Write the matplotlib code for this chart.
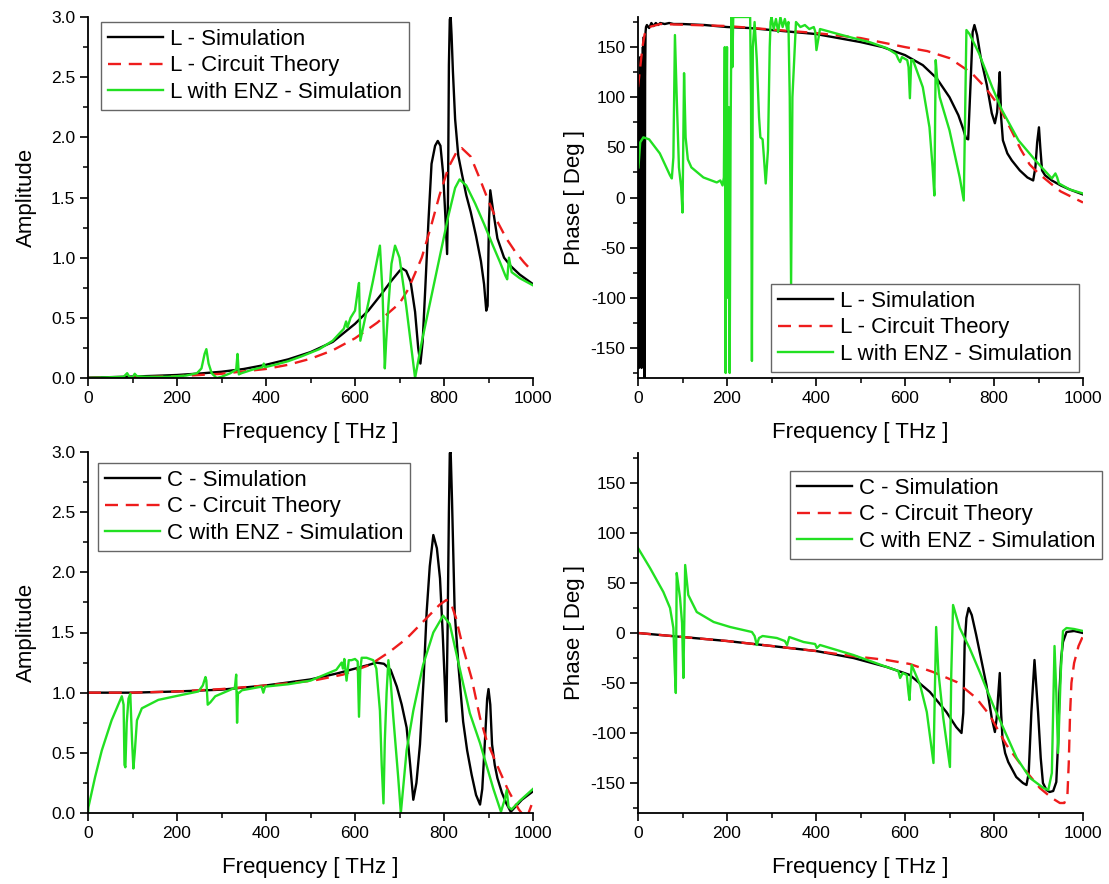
import matplotlib
matplotlib.use("Agg")
import matplotlib.pyplot as plt
from matplotlib.ticker import MultipleLocator, FormatStrFormatter

plt.rcParams['font.family'] = ['Liberation Sans', 'DejaVu Sans']
plt.rcParams['axes.unicode_minus'] = False

# ---------------- data: L amplitude ----------------
la_sim_f = [0, 50, 100, 150, 200, 250, 300, 350, 400, 450, 500, 550, 600, 630, 660, 680, 700, 706, 715, 725, 735, 742, 747,
            752, 758, 765, 772, 780, 786, 792, 798, 803, 807, 809, 811, 813, 815, 817, 820, 825, 832, 840, 850, 860, 872,
            883, 890, 895, 898, 901, 904, 910, 920, 935, 950, 970, 1000]
la_sim_v = [0.003, 0.007, 0.012, 0.018, 0.025, 0.037, 0.052, 0.075, 0.11, 0.155, 0.215, 0.3, 0.45, 0.56, 0.7, 0.8, 0.89, 0.91, 0.89, 0.8, 0.55, 0.25, 0.12,
            0.3, 0.75, 1.3, 1.78, 1.93, 1.97, 1.93, 1.7, 1.35, 1.03, 1.5, 2.6, 2.98, 3.0, 2.85, 2.55, 2.15, 1.85, 1.7, 1.52, 1.38, 1.18,
            0.97, 0.78, 0.56, 0.6, 1.3, 1.56, 1.4, 1.16, 1.0, 0.93, 0.86, 0.78]

la_th_f = [0, 100, 200, 300, 400, 450, 500, 550, 600, 650, 700, 720, 750, 770, 790, 810, 830, 840, 860, 880, 900, 920, 940, 960, 980, 1000]
la_th_v = [0.0, 0.005, 0.015, 0.035, 0.075, 0.11, 0.16, 0.23, 0.33, 0.46, 0.62, 0.74, 1.0, 1.25, 1.52, 1.75, 1.89, 1.91, 1.84, 1.66, 1.47, 1.3, 1.16, 1.05, 0.96, 0.88]

la_enz_f = [0, 40, 80, 88, 93, 100, 105, 110, 130, 180, 220, 245, 255, 262, 266, 271, 278, 289, 300, 320, 333, 336, 339, 345,
            370, 392, 395, 398, 420, 450, 480, 520, 550, 575, 580, 583, 590, 600, 606, 609, 612, 620, 640, 656, 662, 667, 670,
            675, 682, 690, 700, 715, 725, 735, 750, 770, 790, 810, 825, 835, 850, 870, 890, 910, 925, 938, 942, 946, 952, 970, 1000]
la_enz_v = [0.0, 0.005, 0.01, 0.04, 0.01, 0.005, 0.035, 0.015, 0.01, 0.01, 0.02, 0.04, 0.08, 0.2, 0.24, 0.12, 0.04, 0.0, 0.01, 0.04, 0.07, 0.2, 0.03, 0.04,
            0.07, 0.09, 0.12, 0.09, 0.11, 0.14, 0.18, 0.24, 0.31, 0.41, 0.47, 0.42, 0.5, 0.56, 0.72, 0.79, 0.31, 0.45, 0.8, 1.1, 0.7, 0.08, 0.3,
            0.6, 0.95, 1.1, 1.0, 0.6, 0.3, 0.0, 0.3, 0.65, 1.0, 1.35, 1.58, 1.65, 1.6, 1.45, 1.28, 1.1, 0.97, 0.85, 0.82, 1.0, 0.88, 0.83, 0.77]

# ---------------- data: L phase ----------------
lp_sim_f = [0, 1, 2, 3, 4, 5, 6, 7, 8, 9, 10, 11, 12, 13, 14, 15, 16, 17, 18, 20, 25, 30, 35, 40, 45, 50, 60, 70, 80, 100,
            150, 200, 250, 300, 350, 400, 450, 500, 550, 600, 640, 671, 700, 720, 731, 737, 742, 747, 752, 756, 762, 770,
            784, 795, 802, 807, 810, 813, 816, 820, 830, 840, 858, 875, 888, 893, 897, 901, 904, 908, 915, 930, 950, 970, 1000]
lp_sim_v = [0, 110, -170, 100, -120, 140, -60, 120, -170, 130, -100, 150, -50, 160, -178, -180, 120, 165, 170, 172, 169, 174, 171, 174, 172, 174, 173, 174, 173, 173,
            172, 170, 169, 167, 165, 163, 159, 155, 150, 142, 132, 119, 100, 82, 68, 59, 58, 110, 165, 172, 162, 140,
            112, 84, 74, 85, 105, 125, 80, 57, 44, 37, 27, 20, 17, 30, 55, 70, 50, 27, 22, 17, 12, 8, 3]

lp_th_f = [0, 5, 10, 15, 25, 50, 200, 400, 500, 600, 650, 700, 750, 780, 810, 840, 860, 880, 900, 930, 950, 1000]
lp_th_v = [110, 130, 150, 163, 170, 173, 171, 164, 159, 150, 146, 139, 124, 110, 92, 66, 48, 33, 24, 13, 6, -5]

lp_enz_f = [1, 5, 12, 25, 49, 72, 76, 79.5, 83, 87, 92, 97, 100, 103.5, 107, 112, 120, 147, 177, 185, 190, 193, 195, 197,
            199, 200, 202, 204, 206, 208, 210, 212, 214, 225, 240, 252, 254, 256, 258, 262, 267, 272, 275, 280, 283, 287,
            292, 296, 298, 300, 305, 310, 315, 320, 325, 330, 335, 338, 341, 344, 347, 355, 365, 375, 385, 395, 398, 401,
            409, 450, 484, 520, 559, 580, 585, 589, 593, 605, 608, 611, 614, 618, 640, 655, 662, 666, 669, 672, 678, 700,
            723, 732, 735, 738, 745, 766, 796, 818, 855, 893, 930, 938, 942, 946, 970, 1000]
lp_enz_v = [30, 55, 60, 58, 44, 22, 19, 40, 162, 100, 30, 10, -15, 124, 60, 38, 30, 20, 15, 17, 12, 20, 150, -175,
            100, 150, -100, 90, -175, 60, 180, 130, 180, 180, 180, 180, 100, -163, 150, 175, 137, 80, 60, 58, 40, 14,
            47, 150, 175, 180, 168, 178, 165, 180, 170, 178, 168, 175, 100, -88, 100, 175, 170, 172, 168, 170, 166, 147,
            168, 163, 159, 155, 149, 143, 138, 135, 140, 137, 130, 99, 137, 137, 110, 70, 30, 2, 137, 120, 100, 67,
            20, -3, 80, 167, 163, 144, 110, 87, 57, 37, 19, 24, 20, 14, 8, 4]

# ---------------- data: C amplitude ----------------
ca_sim_f = [0, 100, 200, 300, 400, 500, 560, 600, 630, 648, 665, 680, 694, 705, 716, 724, 731, 738, 746, 754, 761, 768, 776,
            784, 791, 797, 802, 805, 808, 811, 813, 815, 818, 824, 833, 843, 852, 862, 872, 881, 886, 892, 897, 900, 904,
            908, 914, 920, 930, 940, 950, 960, 975, 1000]
ca_sim_v = [1.0, 1.0, 1.01, 1.025, 1.06, 1.11, 1.16, 1.2, 1.23, 1.25, 1.24, 1.19, 1.05, 0.9, 0.71, 0.4, 0.11, 0.25, 0.57, 1.1, 1.67, 2.05, 2.31,
            2.2, 1.95, 1.5, 1.06, 0.76, 1.5, 2.5, 2.99, 3.0, 2.6, 1.67, 1.2, 0.76, 0.52, 0.32, 0.15, 0.07, 0.2, 0.6, 0.95, 1.03, 0.9,
            0.57, 0.4, 0.29, 0.17, 0.08, 0.01, 0.05, 0.11, 0.18]

ca_th_f = [0, 100, 200, 300, 400, 454, 506, 573, 633, 678, 716, 761, 790, 805, 815, 827, 843, 862, 881, 896, 919, 944, 968, 985, 1000]
ca_th_v = [1.0, 1.0, 1.01, 1.03, 1.06, 1.08, 1.1, 1.15, 1.23, 1.34, 1.45, 1.62, 1.73, 1.77, 1.75, 1.62, 1.37, 1.12, 0.79, 0.6, 0.4, 0.19, 0.03, -0.05, 0.1]

ca_enz_f = [0, 1, 16, 31, 53, 76, 80, 82, 84, 87, 91, 95, 99, 102, 105, 110, 121, 158, 196, 248, 258, 264, 266, 269, 275,
            286, 330, 333, 335, 337, 340, 346, 390, 394, 398, 450, 500, 558, 570, 573, 576, 581, 586, 592, 600, 606, 609,
            612, 615, 626, 641, 648, 656, 660, 664, 667, 671, 675, 680, 686, 697, 703, 708, 716, 731, 753, 776, 798, 813,
            836, 858, 881, 911, 928, 937, 941, 945, 952, 970, 1000]
ca_enz_v = [0.0, 0.05, 0.3, 0.52, 0.77, 0.97, 0.9, 0.4, 0.38, 0.75, 0.95, 0.99, 0.6, 0.37, 0.5, 0.77, 0.87, 0.94, 0.97, 1.01, 1.06, 1.13, 1.1, 0.9, 0.92,
            0.97, 1.04, 1.15, 0.75, 1.0, 1.0, 1.02, 1.05, 1.0, 1.05, 1.07, 1.1, 1.19, 1.25, 1.2, 1.28, 1.1, 1.27, 1.27, 1.28, 1.26, 0.8,
            1.2, 1.29, 1.29, 1.27, 1.2, 0.85, 0.4, 0.08, 0.6, 1.0, 1.27, 1.1, 0.8, 0.3, 0.0, 0.2, 0.52, 0.85, 1.23, 1.5, 1.64, 1.57,
            1.19, 0.83, 0.58, 0.2, 0.01, 0.12, 0.19, 0.05, 0.03, 0.1, 0.2]

# ---------------- data: C phase ----------------
cp_sim_f = [0, 100, 200, 300, 400, 484, 559, 611, 656, 693, 715, 727, 731, 734, 738, 743, 750, 760, 772, 783, 795, 802, 806,
            809, 813, 816, 819, 825, 832, 850, 865, 873, 878, 884, 891, 899, 905, 910, 918, 925, 933, 940, 944, 947, 951,
            955, 963, 980, 1000]
cp_sim_v = [0, -4, -8, -13, -18, -25, -34, -42, -59, -79, -94, -100, -80, -12, 15, 25, 18, -2, -28, -52, -85, -99, -85,
            -65, -40, -80, -105, -120, -129, -144, -150, -152, -140, -79, -27, -79, -125, -150, -157, -159, -158, -149, -110, -60, -25,
            -9, 1, 2, 0]

cp_th_f = [0, 100, 200, 300, 400, 480, 520, 559, 611, 663, 716, 760, 790, 828, 866, 903, 930, 948, 958, 965, 968, 971, 974, 980, 990, 1000]
cp_th_v = [0, -4, -8, -13, -18, -23, -25, -27, -31, -39, -49, -65, -82, -112, -135, -155, -165, -170, -170, -162, -130, -80, -50, -30, -13, -3]

cp_enz_f = [0, 27, 57, 72, 79.5, 83, 85, 87, 90, 94.5, 99, 102, 106, 113, 132, 170, 207, 256, 262, 267, 272, 280, 312, 330,
            335, 340, 372, 398, 402, 409, 484, 559, 585, 589, 595, 604, 608, 610, 613, 615, 634, 649, 664, 667, 670, 675,
            686, 701, 704, 708, 723, 745, 768, 798, 821, 851, 881, 911, 922, 930, 936, 940, 944, 950, 955, 963, 980, 1000]
cp_enz_v = [85, 65, 41, 25, 5, -40, -60, 60, 50, 35, 10, -45, 68, 38, 21, 11, 6, 1, -3, -12, -5, -3, -5, -8,
            -12, -4, -9, -11, -15, -12, -22, -34, -38, -45, -40, -42, -60, -67, -45, -32, -52, -79, -130, -60, 6, -39,
            -85, -134, -40, 28, 5, -15, -39, -72, -95, -125, -145, -155, -157, -140, -13, -60, -120, -40, 2, 5, 4, 2]

labels_L = ['L - Simulation', 'L - Circuit Theory', 'L with ENZ - Simulation']
labels_C = ['C - Simulation', 'C - Circuit Theory', 'C with ENZ - Simulation']

BLACK = '#000000'
RED = '#ee1c1c'
GREEN = '#22e022'

W, H = 1109, 884
fig = plt.figure(figsize=(W / 100, H / 100), dpi=100)


def make_ax(x0, ytop, ybot, width=445):
    return fig.add_axes([x0 / W, 1 - ybot / H, width / W, (ybot - ytop) / H])


ax_tl = make_ax(88, 17, 378)
ax_tr = make_ax(638, 17, 378)
ax_bl = make_ax(88, 452, 813)
ax_br = make_ax(638, 453, 813)


def style(ax, amp):
    for s in ['top', 'right']:
        ax.spines[s].set_visible(False)
    for s in ['left', 'bottom']:
        ax.spines[s].set_linewidth(1.3)
    ax.set_xlim(0, 1000)
    ax.xaxis.set_major_locator(MultipleLocator(200))
    ax.xaxis.set_minor_locator(MultipleLocator(100))
    if amp:
        ax.set_ylim(0, 3.0)
        ax.yaxis.set_major_locator(MultipleLocator(0.5))
        ax.yaxis.set_minor_locator(MultipleLocator(0.25))
        ax.yaxis.set_major_formatter(FormatStrFormatter('%.1f'))
        ax.set_ylabel('Amplitude', fontsize=16, labelpad=10)
    else:
        ax.set_ylim(-180, 180)
        ax.yaxis.set_major_locator(MultipleLocator(50))
        ax.yaxis.set_minor_locator(MultipleLocator(25))
        ax.set_ylabel('Phase [ Deg ]', fontsize=16, labelpad=4)
    ax.tick_params(which='major', direction='out', length=6, width=1.2, labelsize=12.5, pad=3)
    ax.tick_params(which='minor', direction='out', length=3.5, width=1.1)
    ax.set_xlabel('Frequency [ THz ]', fontsize=16, labelpad=12)


def draw(ax, sim, th, enz, labels, leg_xy):
    l1, = ax.plot(sim[0], sim[1], color=BLACK, lw=1.7, label=labels[0])
    l2, = ax.plot(th[0], th[1], color=RED, lw=1.7, dashes=(5.5, 3.3), label=labels[1])
    l3, = ax.plot(enz[0], enz[1], color=GREEN, lw=1.7, label=labels[2])
    leg = ax.legend(handles=[l1, l2, l3], loc='upper left',
                    bbox_to_anchor=(leg_xy[0] / W, 1 - leg_xy[1] / H),
                    bbox_transform=fig.transFigure, fontsize=16,
                    frameon=True, fancybox=False, framealpha=1, edgecolor='#666666',
                    borderpad=0.3, labelspacing=0.26, handlelength=2.5, handletextpad=0.3,
                    borderaxespad=0)
    leg.get_frame().set_linewidth(1.0)
    leg.set_zorder(10)


style(ax_tl, True)
style(ax_tr, False)
style(ax_bl, True)
style(ax_br, False)

draw(ax_tl, (la_sim_f, la_sim_v), (la_th_f, la_th_v), (la_enz_f, la_enz_v), labels_L, (101, 22))
draw(ax_tr, (lp_sim_f, lp_sim_v), (lp_th_f, lp_th_v), (lp_enz_f, lp_enz_v), labels_L, (771, 284))
draw(ax_bl, (ca_sim_f, ca_sim_v), (ca_th_f, ca_th_v), (ca_enz_f, ca_enz_v), labels_C, (98, 463))
draw(ax_br, (cp_sim_f, cp_sim_v), (cp_th_f, cp_th_v), (cp_enz_f, cp_enz_v), labels_C, (790, 471))

fig.savefig('out.png', dpi=100)
